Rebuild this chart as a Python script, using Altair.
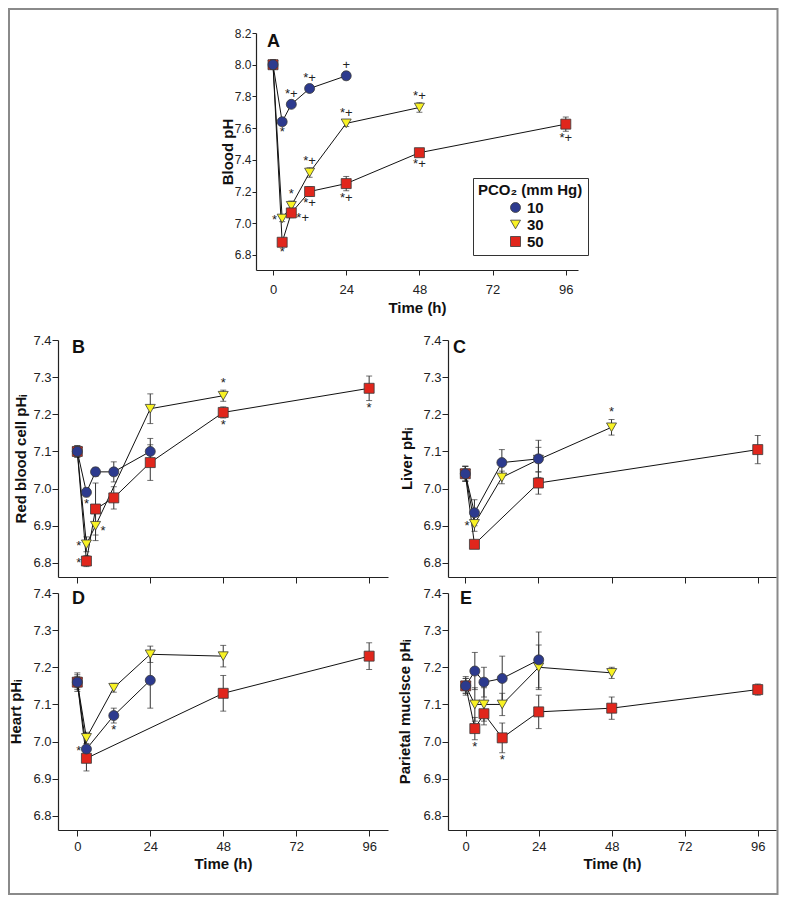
import altair as alt
import pandas as pd

FONT = "Liberation Sans"

TIMES = [0, 3, 6, 12, 24, 48, 96]
SERIES = ["10", "30", "50"]
COLORS = ["#2c3a8e", "#f8f224", "#e1261c"]
SHAPES = ["circle", "triangle-down", "square"]
ZORDER = {"30": 0, "50": 1, "10": 2}
XTICKS = [0, 24, 48, 72, 96]

# Panel A: blood pH
A_MEAN = {
    "10": [8.00, 7.64, 7.75, 7.85, 7.93, None, None],
    "30": [8.00, 7.03, 7.11, 7.32, 7.63, 7.73, None],
    "50": [8.00, 6.88, 7.065, 7.20, 7.25, 7.445, 7.625],
}
A_SEM = {
    "10": [0.03, 0.02, 0.02, 0.02, 0.025, None, None],
    "30": [0.03, 0.02, 0.03, 0.03, 0.02, 0.03, None],
    "50": [0.03, 0.02, 0.03, 0.03, 0.045, 0.025, 0.045],
}
# Panel B: red blood cell pHi
B_MEAN = {
    "10": [7.10, 6.99, 7.045, 7.045, 7.10, None, None],
    "30": [7.10, 6.85, 6.90, None, 7.215, 7.25, None],
    "50": [7.10, 6.805, 6.945, 6.975, 7.07, 7.205, 7.27],
}
B_SEM = {
    "10": [0.015, 0.012, 0.012, 0.027, 0.035, None, None],
    "30": [0.015, 0.02, 0.04, None, 0.04, 0.015, None],
    "50": [0.015, 0.015, 0.07, 0.03, 0.048, 0.015, 0.033],
}
# Panel C: liver pHi
C_MEAN = {
    "10": [7.04, 6.935, None, 7.07, 7.08, None, None],
    "30": [7.04, 6.905, None, 7.03, 7.078, 7.165, None],
    "50": [7.04, 6.85, None, None, 7.015, None, 7.105],
}
C_SEM = {
    "10": [0.02, 0.035, None, 0.035, 0.05, None, None],
    "30": [0.02, 0.02, None, 0.017, 0.033, 0.021, None],
    "50": [0.02, 0.01, None, None, 0.03, None, 0.038],
}
# Panel D: heart pHi
D_MEAN = {
    "10": [7.16, 6.98, None, 7.07, 7.165, None, None],
    "30": [7.16, 7.01, None, 7.145, 7.235, 7.23, None],
    "50": [7.16, 6.955, None, None, None, 7.13, 7.23],
}
D_SEM = {
    "10": [0.025, 0.01, None, 0.02, 0.075, None, None],
    "30": [0.02, 0.015, None, 0.012, 0.022, 0.029, None],
    "50": [0.015, 0.034, None, None, None, 0.048, 0.036],
}
# Panel E: parietal muscle pHi
E_MEAN = {
    "10": [7.15, 7.19, 7.16, 7.17, 7.22, None, None],
    "30": [7.15, 7.10, 7.10, 7.10, 7.20, 7.185, None],
    "50": [7.15, 7.035, 7.075, 7.01, 7.08, 7.09, 7.14],
}
E_SEM = {
    "10": [0.025, 0.05, 0.04, 0.06, 0.075, None, None],
    "30": [0.02, 0.045, 0.045, 0.03, 0.06, 0.015, None],
    "50": [0.02, 0.03, 0.03, 0.04, 0.045, 0.03, 0.015],
}

# significance marks: (panel, series, time, label, side)
ANNOT = [
    ("A", "10", 3, "*", "below"), ("A", "10", 6, "*+", "above"),
    ("A", "10", 12, "*+", "above"), ("A", "10", 24, "+", "above"),
    ("A", "30", 3, "*", "left"), ("A", "30", 6, "*", "above"),
    ("A", "30", 12, "*+", "above"), ("A", "30", 24, "*+", "above"),
    ("A", "30", 48, "*+", "above"),
    ("A", "50", 3, "*", "below"), ("A", "50", 6, "*+", "right"),
    ("A", "50", 12, "*+", "below"), ("A", "50", 24, "*+", "below"),
    ("A", "50", 48, "*+", "below"), ("A", "50", 96, "*+", "below"),
    ("B", "10", 3, "*", "below"), ("B", "30", 3, "*", "left"),
    ("B", "50", 3, "*", "left"), ("B", "30", 6, "*", "right"),
    ("B", "30", 48, "*", "above"), ("B", "50", 48, "*", "below"),
    ("B", "50", 96, "*", "below"),
    ("C", "30", 3, "*", "left"), ("C", "30", 48, "*", "above"),
    ("D", "10", 3, "*", "left"), ("D", "10", 12, "*", "below"),
    ("E", "50", 3, "*", "below"), ("E", "50", 12, "*", "below"),
]

PANELS = {"A": (A_MEAN, A_SEM), "B": (B_MEAN, B_SEM), "C": (C_MEAN, C_SEM),
          "D": (D_MEAN, D_SEM), "E": (E_MEAN, E_SEM)}

rows = []
for p, (mean, sem) in PANELS.items():
    for s in SERIES:
        for t, m, e in zip(TIMES, mean[s], sem[s]):
            if m is None:
                continue
            rows.append(dict(panel=p, series=s, time=t, mean=m,
                             lo=round(m - e, 4), hi=round(m + e, 4), z=ZORDER[s]))
df = pd.DataFrame(rows)

arows = []
for p, s, t, lab, side in ANNOT:
    r = df[(df.panel == p) & (df.series == s) & (df.time == t)].iloc[0]
    yv = r.hi if side == "above" else (r.lo if side == "below" else r["mean"])
    arows.append(dict(panel=p, label=lab, side=side, time=t, ypos=float(yv)))
ann = pd.DataFrame(arows)

SIDE_STYLE = {
    "above": dict(align="center", baseline="alphabetic", dx=0, dy=-3),
    "below": dict(align="center", baseline="top", dx=0, dy=1),
    "left": dict(align="right", baseline="middle", dx=-5, dy=2),
    "right": dict(align="left", baseline="middle", dx=5, dy=5),
}

AXC = dict(domainColor="#222", domainWidth=1.2, tickColor="#222", tickWidth=1,
           labelColor="#222", labelFont=FONT, titleFont=FONT, titleColor="#111",
           titleFontWeight="bold", titleFontSize=15, grid=False, labelFlush=False)


def panel(key, letter, w, h, xdom, ydom, yvals, ytitle, xlab, ytp, lpos,
          ylabsize=13, ytick=6, xtick=6, xlp=4, xtp=3, legend=None,
          xrange=None, yoff=0):
    d = df[df.panel == key]
    a = ann[ann.panel == key]
    if xrange is None:
        xs = alt.Scale(domain=xdom, nice=False, zero=False)
    else:
        xs = alt.Scale(domain=xdom, range=xrange, nice=False, zero=False)
    ys = alt.Scale(domain=ydom, nice=False, zero=False)
    xaxis = alt.Axis(values=XTICKS, labels=xlab, title="Time (h)" if xlab else "",
                     tickSize=xtick, labelPadding=xlp, titlePadding=xtp,
                     labelFontSize=13, **AXC)
    yaxis = alt.Axis(values=yvals, format=".1f", title=ytitle, titlePadding=ytp,
                     tickSize=ytick, labelPadding=1, labelFontSize=ylabsize,
                     offset=yoff, **AXC)
    X = alt.X("time:Q", scale=xs, axis=xaxis)

    def Y(f):
        return alt.Y(f, scale=ys, axis=yaxis)

    base = alt.Chart(d)
    layers = [
        base.mark_rule(color="#333", strokeWidth=1).encode(x=X, y=Y("lo:Q"), y2="hi:Q"),
        base.mark_tick(orient="horizontal", size=6, thickness=1, color="#333").encode(x=X, y=Y("lo:Q")),
        base.mark_tick(orient="horizontal", size=6, thickness=1, color="#333").encode(x=X, y=Y("hi:Q")),
        base.mark_line(color="#111", strokeWidth=1).encode(
            x=X, y=Y("mean:Q"), detail="series:N", order="time:Q"),
        base.mark_point(filled=True, size=100, opacity=1, stroke="#3a3a3a", strokeWidth=0.8).encode(
            x=X, y=Y("mean:Q"),
            color=alt.Color("series:N", scale=alt.Scale(domain=SERIES, range=COLORS), legend=legend),
            shape=alt.Shape("series:N", scale=alt.Scale(domain=SERIES, range=SHAPES), legend=legend),
            order=alt.Order("z:Q")),
    ]
    for side, st in SIDE_STYLE.items():
        sub = a[a.side == side]
        if len(sub) == 0:
            continue
        layers.append(alt.Chart(sub).mark_text(font=FONT, fontSize=13, color="#222", **st).encode(
            x=X, y=Y("ypos:Q"), text="label:N"))
    # panel letter
    layers.append(alt.Chart(alt.Data(values=[{"t": letter}])).mark_text(
        font=FONT, fontSize=18, fontWeight="bold", color="#111", align="left", baseline="top"
    ).encode(text="t:N", x=alt.value(lpos[0]), y=alt.value(lpos[1])))
    return alt.layer(*layers).properties(width=w, height=h)


LEG = alt.Legend(title="PCO₂ (mm Hg)", orient="none", legendX=415, legendY=145,
                 strokeColor="#333", fillColor="white", padding=5,
                 titleFont=FONT, titleFontSize=15, titleFontWeight="bold", titleColor="#111",
                 titlePadding=2, labelFont=FONT, labelFontSize=15, labelFontWeight="bold",
                 labelColor="#111", symbolOffset=30, symbolSize=100, rowPadding=1,
                 symbolStrokeColor="#3a3a3a", symbolStrokeWidth=0.8)

Y_A = [6.8, 7.0, 7.2, 7.4, 7.6, 7.8, 8.0, 8.2]
Y_T = [6.8, 6.9, 7.0, 7.1, 7.2, 7.3, 7.4]

# Panel A sits in a 330-wide cell but its axes are drawn from 198 px to 520 px
pA = panel("A", "A", 330, 237, [-5.58, 100.0], [6.705, 8.2], Y_A, "Blood pH", True, -1, (209, 0),
           ylabsize=12, ytick=4, xtick=5, xlp=8, xtp=4, legend=LEG,
           xrange=[198, 520], yoff=-198)
pB = panel("B", "B", 330, 237, [-6.35, 102.2], [6.762, 7.4], Y_T, "Red blood cell pHᵢ", False, 4, (14, -1))
pC = panel("C", "C", 328, 237, [-5.68, 101.99], [6.762, 7.4], Y_T, "Liver pHᵢ", False, 8, (5, -1))
pD = panel("D", "D", 330, 237, [-6.35, 102.2], [6.762, 7.4], Y_T, "Heart pHᵢ", True, 9, (14, -3))
pE = panel("E", "E", 328, 237, [-5.82, 102.0], [6.762, 7.4], Y_T, "Parietal muclsce pHᵢ", True, 10, (12, -3))

# empty cell that holds the outer frame
spacer = alt.Chart(alt.Data(values=[{"k": 1}])).mark_rect(
    fillOpacity=0, stroke="#8a8a8a", strokeWidth=2).encode(
    x=alt.value(-439), x2=alt.value(329.5), y=alt.value(-24), y2=alt.value(861)
).properties(width=10, height=291)

chart = alt.concat(
    pA, spacer, pB, pC, pD, pE, columns=2,
    spacing={"row": 16, "column": 60},
    align="each", bounds="flush", padding=0,
).resolve_scale(color="independent", shape="independent").configure(
    font=FONT, background="white"
).configure_view(strokeWidth=0)

chart.save("out.html", embed_options={"renderer": "svg", "actions": False})
